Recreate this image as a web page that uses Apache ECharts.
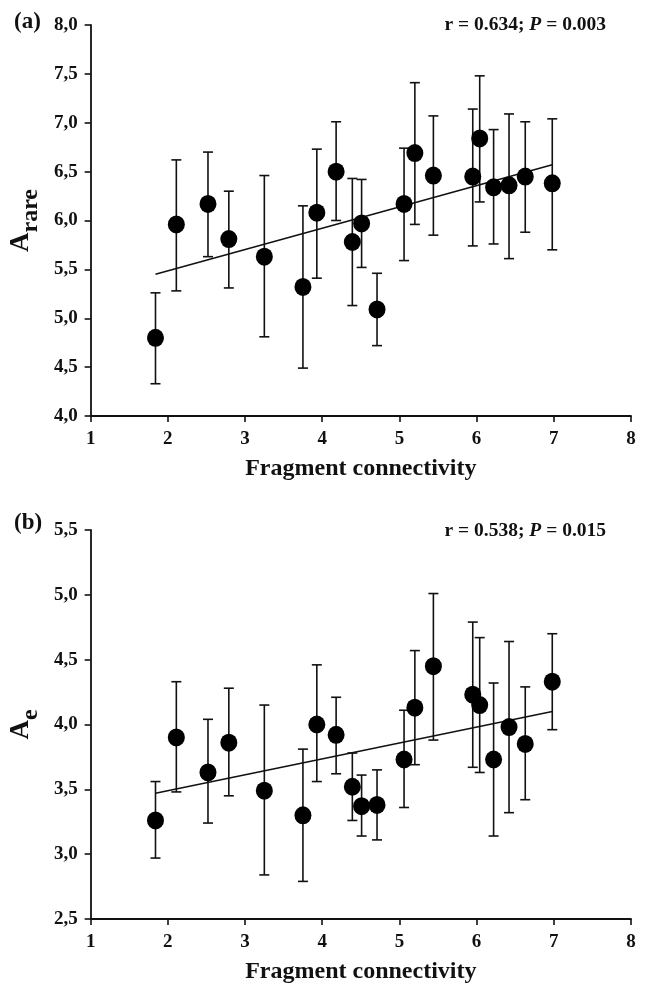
<!DOCTYPE html>
<html>
<head>
<meta charset="utf-8">
<script src="https://cdn.jsdelivr.net/npm/echarts@6/dist/echarts.min.js"></script>
<style>
  html, body { margin: 0; padding: 0; background: #fff; }
  #chart { width: 646px; height: 985px; }
</style>
</head>
<body>
<div id="chart"></div>
<script>
// fragment connectivity (x) shared by both panels
const connectivity = [1.84, 2.11, 2.52, 2.79, 3.25, 3.75, 3.93, 4.18, 4.39, 4.51, 4.71, 5.06, 5.20, 5.44, 5.95, 6.04, 6.22, 6.42, 6.63, 6.98]

// (a) A rare
const rareMean = [4.80, 5.96, 6.17, 5.81, 5.63, 5.32, 6.08, 6.50, 5.78, 5.97, 5.09, 6.17, 6.69, 6.46, 6.45, 6.84, 6.34, 6.36, 6.45, 6.38]
const rareLow = [4.33, 5.28, 5.63, 5.31, 4.81, 4.49, 5.41, 6.00, 5.13, 5.52, 4.72, 5.59, 5.96, 5.85, 5.74, 6.19, 5.76, 5.61, 5.88, 5.70]
const rareHigh = [5.26, 6.62, 6.70, 6.30, 6.46, 6.15, 6.73, 7.01, 6.43, 6.42, 5.46, 6.74, 7.41, 7.07, 7.14, 7.48, 6.93, 7.09, 7.01, 7.04]

// (b) A e
const eMean = [3.26, 3.90, 3.63, 3.86, 3.49, 3.30, 4.00, 3.92, 3.52, 3.37, 3.38, 3.73, 4.13, 4.45, 4.23, 4.15, 3.73, 3.98, 3.85, 4.33]
const eLow = [2.97, 3.48, 3.24, 3.45, 2.84, 2.79, 3.56, 3.62, 3.26, 3.14, 3.11, 3.36, 3.69, 3.88, 3.67, 3.63, 3.14, 3.32, 3.42, 3.96]
const eHigh = [3.56, 4.33, 4.04, 4.28, 4.15, 3.81, 4.46, 4.21, 3.78, 3.61, 3.65, 4.11, 4.57, 5.01, 4.79, 4.67, 4.32, 4.64, 4.29, 4.70]

// regression line end points
const fitX = [1.84, 6.98]
const rareFit = [5.45, 6.57]
const eFit = [3.47, 4.10]

const xTicks = [1, 2, 3, 4, 5, 6, 7, 8]

const font = 'Liberation Serif'
const ink = '#111'

const chart = echarts.init(document.getElementById('chart'))

function pairs(xs, ys) {
  return xs.map((x, i) => [x, ys[i]])
}

function errorBars(params, api) {
  const x = api.value(0)
  const lo = api.coord([x, api.value(1)])
  const hi = api.coord([x, api.value(2)])
  const cap = 5
  const style = { stroke: ink, lineWidth: 1.6, fill: null }
  return {
    type: 'group',
    children: [
      { type: 'line', shape: { x1: lo[0], y1: lo[1], x2: hi[0], y2: hi[1] }, style },
      { type: 'line', shape: { x1: lo[0] - cap, y1: lo[1], x2: lo[0] + cap, y2: lo[1] }, style },
      { type: 'line', shape: { x1: hi[0] - cap, y1: hi[1], x2: hi[0] + cap, y2: hi[1] }, style }
    ]
  }
}

function xAxis(gridIndex) {
  return {
    type: 'value',
    gridIndex,
    min: xTicks[0],
    max: xTicks[xTicks.length - 1],
    interval: 1,
    name: 'Fragment connectivity',
    nameLocation: 'middle',
    nameGap: 41,
    nameTextStyle: { fontFamily: font, fontWeight: 'bold', fontSize: 24, color: ink },
    axisLine: { lineStyle: { color: ink, width: 1.8 } },
    axisTick: { length: 6, lineStyle: { color: ink, width: 1.6 } },
    axisLabel: { fontFamily: font, fontWeight: 'bold', fontSize: 19, color: ink, margin: 14 },
    splitLine: { show: false }
  }
}

function yAxis(gridIndex, min, max, sub) {
  return {
    type: 'value',
    gridIndex,
    min,
    max,
    interval: 0.5,
    name: '{a|A}{s|' + sub + '}',
    nameLocation: 'middle',
    nameRotate: 90,
    nameGap: 50,
    nameTextStyle: {
      rich: {
        a: { fontFamily: font, fontWeight: 'bold', fontSize: 27, color: ink, verticalAlign: 'bottom' },
        s: { fontFamily: font, fontWeight: 'bold', fontSize: 24, color: ink, verticalAlign: 'bottom', padding: [0, 0, -8, 0] }
      }
    },
    axisLine: { show: true, lineStyle: { color: ink, width: 1.8 } },
    axisTick: { show: true, length: 6, lineStyle: { color: ink, width: 1.6 } },
    axisLabel: {
      fontFamily: font, fontWeight: 'bold', fontSize: 19, color: ink, margin: 13,
      formatter: (v) => v.toFixed(1).replace('.', ',')
    },
    splitLine: { show: false }
  }
}

function panelSeries(idx, low, high, mean, fit) {
  return [
    {
      type: 'custom',
      xAxisIndex: idx,
      yAxisIndex: idx,
      renderItem: errorBars,
      data: connectivity.map((x, i) => [x, low[i], high[i]]),
      z: 1
    },
    {
      type: 'line',
      xAxisIndex: idx,
      yAxisIndex: idx,
      data: pairs(fitX, fit),
      symbol: 'none',
      lineStyle: { color: ink, width: 1.6 },
      z: 2
    },
    {
      type: 'scatter',
      xAxisIndex: idx,
      yAxisIndex: idx,
      data: pairs(connectivity, mean),
      symbol: 'circle',
      symbolSize: [17, 18],
      itemStyle: { color: '#000', opacity: 1 },
      z: 3
    }
  ]
}

function statText(top, r, p) {
  return {
    type: 'text',
    right: 40,
    top,
    style: {
      text: '{b|r = ' + r + '; }{i|P}{b| = ' + p + '}',
      rich: {
        b: { fontFamily: font, fontWeight: 'bold', fontSize: 19.5, fill: ink },
        i: { fontFamily: font, fontWeight: 'bold', fontStyle: 'italic', fontSize: 19.5, fill: ink }
      }
    }
  }
}

const option = {
  animation: false,
  backgroundColor: '#fff',
  grid: [
    { left: 87, top: 25, width: 544, height: 391 },
    { left: 87, top: 530, width: 544, height: 391 }
  ],
  xAxis: [xAxis(0), xAxis(1)],
  yAxis: [yAxis(0, 4, 8, 'rare'), yAxis(1, 2.5, 5.5, 'e')],
  series: [
    ...panelSeries(0, rareLow, rareHigh, rareMean, rareFit),
    ...panelSeries(1, eLow, eHigh, eMean, eFit)
  ],
  graphic: [
    { type: 'text', left: 14, top: 11, style: { text: '(a)', fontFamily: font, fontWeight: 'bold', fontSize: 23, fill: ink } },
    { type: 'text', left: 14, top: 512, style: { text: '(b)', fontFamily: font, fontWeight: 'bold', fontSize: 23, fill: ink } },
    statText(15, '0.634', '0.003'),
    statText(521, '0.538', '0.015')
  ]
}

chart.setOption(option)
</script>
</body>
</html>
